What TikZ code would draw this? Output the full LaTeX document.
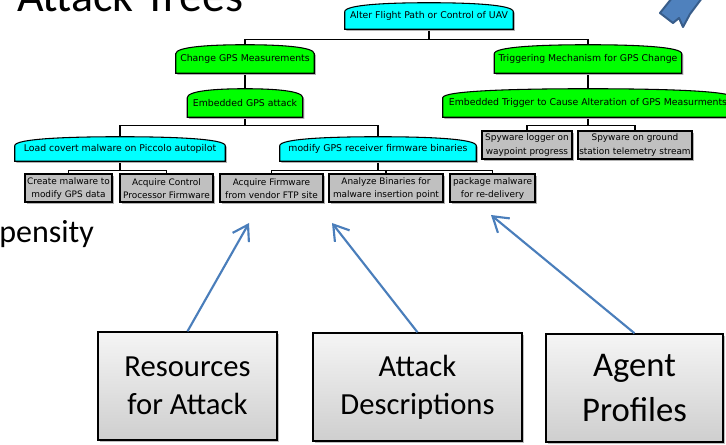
\documentclass[tikz,border=0pt]{standalone}
\usepackage{fontspec}
\setmainfont{Carlito}
\newfontfamily\treefont{DejaVu Sans}
\usetikzlibrary{calc,arrows.meta,backgrounds,shadows}
\newcommand{\px}{0.75pt}
\newcommand{\treetextsize}{7}
\newcommand{\leaftextsize}{6.7}
\definecolor{rootcyan}{HTML}{00FFFF}
\definecolor{goalgreen}{HTML}{00FF00}
\definecolor{leafgray}{HTML}{C0C0C0}
\definecolor{arrowblue}{HTML}{4A7EBB}
\definecolor{shapeblue}{HTML}{4F81BD}
\definecolor{shapeedge}{HTML}{385D8A}
\newcommand{\tombpath}[1]{(#1.south west) -- ($(#1.north west)+(0,9)$) .. controls ($(#1.north west)+(0,2)$) and ($(#1.north west)!0.5!(#1.north)$) .. (#1.north) .. controls ($(#1.north)!0.5!(#1.north east)$) and ($(#1.north east)+(0,2)$) .. ($(#1.north east)+(0,9)$) -- (#1.south east) -- cycle}

\begin{document}
\begin{tikzpicture}[x=0.75pt,y=-0.75pt,
  tomb/.style={inner sep=0pt, font=\treefont\fontsize{\treetextsize}{8}\selectfont},
  leaf/.style={draw=black, line width=1.5pt, fill=leafgray, align=center, inner sep=0pt,
    minimum height=28*\px, font=\treefont\fontsize{\leaftextsize}{10}\selectfont,
    drop shadow={shadow xshift=1.2pt, shadow yshift=-1.2pt, fill=gray, opacity=0.6}},
  treeline/.style={draw=black, line width=0.8pt},
  notebox/.style={draw=black, line width=1.1pt, top color=gray!8, bottom color=gray!38,
    align=center, inner sep=0pt, minimum height=108*\px,
    drop shadow={shadow xshift=1.5pt, shadow yshift=-1.5pt, fill=gray, opacity=0.5}},
  pointer/.style={draw=arrowblue, line width=1.6pt, -{Straight Barb[length=11pt,width=14pt]}}]

\useasboundingbox (0,0) rectangle (726,445);
\clip (0,0) rectangle (726,445);

% Slide texts
\node (title) [anchor=base west, inner sep=0pt, font=\fontsize{34.5}{40}\selectfont] at (17,12) {Attack Trees};
\node (propensity) [anchor=base west, inner sep=0pt, font=\fontsize{24}{28}\selectfont] at (-1,243) {pensity};

% Corner of the blue block arrow
\filldraw[fill=shapeblue, draw=shapeedge, line width=1.5pt, line join=round]
  (660,13) -- (672,-2) -- (702,-2) -- (690,14) -- (683,27) -- (679,18) -- (673,23) -- cycle;

% Goal nodes
\node (AF) [tomb, minimum width=168*\px, minimum height=26*\px] at (429,16) {Alter Flight Path or Control of UAV};
\node (CG) [tomb, minimum width=138*\px, minimum height=28*\px] at (245,59) {Change GPS Measurements};
\node (EG) [tomb, minimum width=115*\px, minimum height=28*\px] at (245,103) {Embedded GPS attack};
\node (TM) [tomb, minimum width=187*\px, minimum height=28*\px] at (588,59) {Triggering Mechanism for GPS Change};
\node (ET) [tomb, minimum width=290*\px, minimum height=28*\px] at (588,103) {Embedded Trigger to Cause Alteration of GPS Measurments};
\node (LM) [tomb, minimum width=210*\px, minimum height=24*\px] at (120,149) {Load covert malware on Piccolo autopilot};
\node (MF) [tomb, minimum width=196*\px, minimum height=24*\px] at (378,149) {modify GPS receiver firmware binaries};

% Leaf nodes
\node (CM) [leaf, minimum width=87*\px] at (68.5,188.5) {Create malware to\\modify GPS data};
\node (AC) [leaf, minimum width=93*\px] at (166.5,188.5) {Acquire Control\\Processor Firmware};
\node (AQ) [leaf, minimum width=103*\px] at (271.5,188.5) {Acquire Firmware\\from vendor FTP site};
\node (AB) [leaf, minimum width=114*\px] at (386,188.5) {Analyze Binaries for\\malware insertion point};
\node (PM) [leaf, minimum width=85*\px] at (492.5,188.5) {package malware\\for re-delivery};
\node (SL) [leaf, minimum width=90*\px] at (527,145) {Spyware logger on\\waypoint progress};
\node (SG) [leaf, minimum width=114*\px] at (635,145) {Spyware on ground\\station telemetry stream};

% Tree lines and goal shapes
\begin{scope}[on background layer]
\foreach \p/\kid/\drop in {AF/CG/10, AF/TM/10, EG/LM/8, EG/MF/8, ET/SL/8, ET/SG/8, LM/CM/9, LM/AC/9, MF/AQ/9, MF/AB/9, MF/PM/9}
  \draw[treeline] (\p.south) -- ++(0,\drop) -| (\kid.north);
\draw[treeline] (CG.south) -- (EG.north);
\draw[treeline] (TM.south) -- (ET.north);
\foreach \n/\col in {AF/rootcyan, CG/goalgreen, EG/goalgreen, TM/goalgreen, ET/goalgreen, LM/rootcyan, MF/rootcyan} {
  \fill[gray!60, transform canvas={xshift=1.2pt, yshift=-1.2pt}] \tombpath{\n};
  \draw[fill=\col, line width=0.8pt] \tombpath{\n};
}
\end{scope}

% Model boxes
\node (RA) [notebox, minimum width=179*\px, font=\fontsize{23}{28.5}\selectfont] at (187.5,386) {Resources\\for Attack};
\node (AD) [notebox, minimum width=209*\px, font=\fontsize{23}{28.5}\selectfont] at (417.5,387) {Attack\\Descriptions};
\node (AP) [notebox, minimum width=177*\px, font=\fontsize{26}{34}\selectfont] at (634.5,388) {Agent\\Profiles};

% Pointers
\coordinate (tipRA) at (249,223);
\coordinate (tipAD) at (332,223);
\coordinate (tipAP) at (491,215);
\draw[pointer] (RA.north) -- (tipRA);
\draw[pointer] (AD.north) -- (tipAD);
\draw[pointer] (AP.north) -- (tipAP);

\end{tikzpicture}
\end{document}
